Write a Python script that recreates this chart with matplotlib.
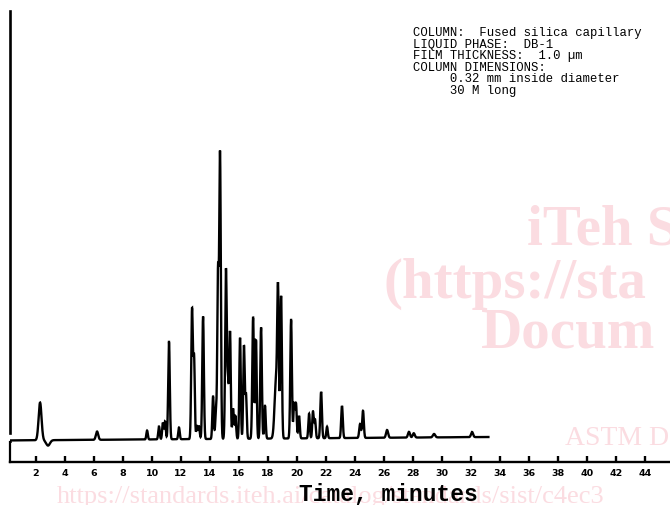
import numpy as np
import matplotlib.pyplot as plt

# gas chromatogram, DB-1 fused silica column
# peaks: retention time (min), height (largest = 100), sigma (min)
peak_t = [2.28, 2.83, 6.21, 9.66, 10.48, 10.75, 10.90, 11.17, 11.86,
          12.76, 12.90, 13.10, 13.24, 13.52, 14.21, 14.41, 14.55, 14.69,
          15.10, 15.24, 15.38, 15.59, 15.75, 16.07, 16.34, 16.48, 16.97,
          17.17, 17.52, 17.79, 18.55, 18.69, 18.90, 19.59, 19.80, 19.93,
          20.14, 20.83, 21.10, 21.24, 21.66, 22.07, 23.10, 24.35, 24.55,
          26.21, 27.72, 28.05, 29.45, 32.07]
peak_h = [13.2, -1.9, 2.9, 3.1, 4.5, 5.8, 6.2, 34.2, 4.1,
          45.5, 28.0, 4.4, 4.4, 43.0, 14.9, 9.6, 57.0, 100.0,
          59.5, 19.5, 37.5, 10.6, 8.0, 35.5, 32.5, 15.5, 42.5,
          34.5, 39.0, 11.5, 20.0, 47.0, 50.0, 41.6, 12.0, 12.0,
          7.9, 8.6, 9.3, 6.5, 16.3, 4.0, 11.3, 4.9, 9.5,
          2.7, 2.0, 1.5, 1.2, 1.8]
peak_w = [0.10, 0.13, 0.08, 0.05, 0.05, 0.05, 0.05, 0.055, 0.05,
          0.055, 0.05, 0.05, 0.05, 0.055, 0.05, 0.05, 0.05, 0.055,
          0.055, 0.05, 0.05, 0.05, 0.05, 0.05, 0.05, 0.05, 0.055,
          0.05, 0.055, 0.05, 0.10, 0.055, 0.055, 0.055, 0.05, 0.05,
          0.05, 0.05, 0.05, 0.05, 0.055, 0.05, 0.055, 0.06, 0.055,
          0.07, 0.07, 0.07, 0.08, 0.07]

# baseline drift (start / end of run)
base_t = [0.2, 33.2]
base_y = [0.2, 1.4]

ticks = list(range(2, 46, 2))

notes = ["COLUMN:  Fused silica capillary",
         "LIQUID PHASE:  DB-1",
         "FILM THICKNESS:  1.0 \u00b5m",
         "COLUMN DIMENSIONS:",
         "     0.32 mm inside diameter",
         "     30 M long"]

# build trace
t = np.arange(base_t[0], base_t[1], 0.004)
y = np.interp(t, base_t, base_y)
for t0, h, s in zip(peak_t, peak_h, peak_w):
    y = y + h * np.exp(-0.5 * ((t - t0) / s) ** 2)

W, H = 670, 506
fig = plt.figure(figsize=(W / 100, H / 100), dpi=100)
fig.patch.set_facecolor('white')

# watermark (faint, behind everything)
wm = '#fbdce1'
fig.text(527 / W, 1 - 245 / H, "iTeh S", color=wm, fontsize=41, fontweight='bold',
         family='Liberation Serif', va='baseline', zorder=0)
fig.text(383 / W, 1 - 298 / H, "(https://sta", color=wm, fontsize=41, fontweight='bold',
         family='Liberation Serif', va='baseline', zorder=0)
fig.text(481 / W, 1 - 348 / H, "Docum", color=wm, fontsize=41, fontweight='bold',
         family='Liberation Serif', va='baseline', zorder=0)
fig.text(565 / W, 1 - 445 / H, "ASTM D", color=wm, fontsize=20,
         family='Liberation Serif', va='baseline', zorder=0)
fig.text(57 / W, 1 - 503 / H, "https://standards.iteh.ai/catalog/standards/sist/c4ec3",
         color=wm, fontsize=19, family='Liberation Serif', va='baseline', zorder=0)

ax = fig.add_axes([9.5 / W, (H - 463) / H, (W - 9.5) / W, (463 - 12) / H])
ax.patch.set_alpha(0)
ax.set_xlim(0.172, 45.72)
ax.set_ylim(-7.37, 150.9)

ax.plot(t, y, color='black', lw=1.7, solid_joinstyle='miter')

# small bracket joining trace start to the time axis
ax.plot([ax.get_xlim()[0]] * 2, [-0.35, -7.37], color='black', lw=1.6, clip_on=False)
ax.plot([ax.get_xlim()[0], 0.3], [-0.35, -0.35], color='black', lw=1.2, clip_on=False)

for side in ['top', 'right']:
    ax.spines[side].set_visible(False)
ax.spines['left'].set_bounds(2.8, 150.9)
ax.spines['left'].set_linewidth(1.9)
ax.spines['bottom'].set_linewidth(1.7)

ax.set_yticks([])
ax.set_xticks(ticks)
ax.set_xticklabels([str(v) for v in ticks])
ax.tick_params(axis='x', direction='in', length=4, width=1.7, pad=4, labelsize=6.8)
for lbl in ax.get_xticklabels():
    lbl.set_fontweight('bold')

fig.text(388 / W, 1 - 495 / H, "Time, minutes", ha='center', va='center',
         family='Liberation Mono', fontweight='bold', fontsize=16.5)

fig.text(413 / W, 1 - 27 / H, "\n".join(notes), ha='left', va='top',
         family='Liberation Mono', fontsize=8.8, linespacing=0.95)

fig.savefig('out.png', dpi=100, facecolor='white')
